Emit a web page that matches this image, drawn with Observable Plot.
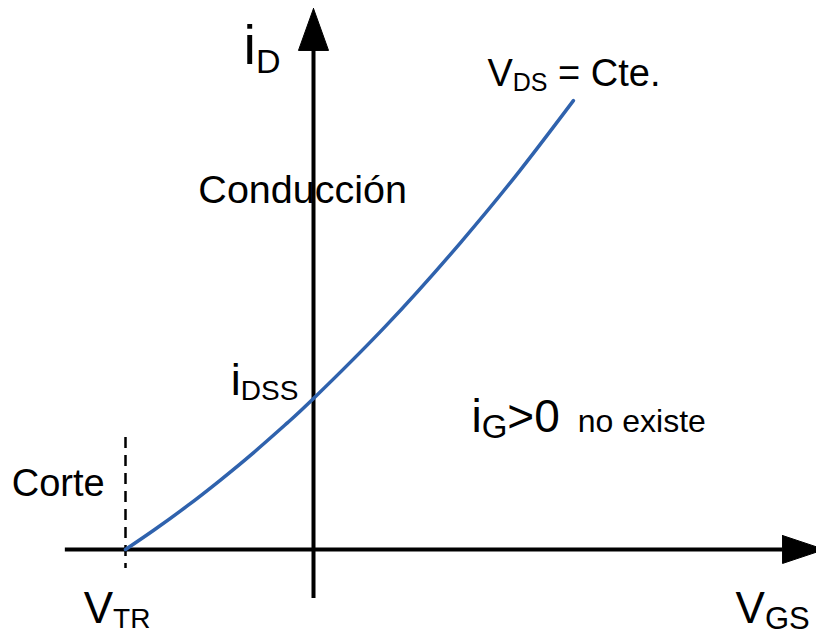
<!DOCTYPE html>
<html>
<head>
<meta charset="utf-8">
<script src="https://cdn.jsdelivr.net/npm/d3@7"></script>
<script src="https://cdn.jsdelivr.net/npm/@observablehq/plot@0.6"></script>
<style>
  html, body { margin: 0; padding: 0; background: #fff; }
  svg text { white-space: pre; }
</style>
</head>
<body>
<div id="chart"></div>
<script>
// Transfer characteristic (units: VTR = -4, iDSS = 4)
const vgs = [-4, -3.40, -2.68, -1.98, -1.28, -0.55, 0, 1.53, 3.13, 4.40, 5.53];
const iD  = [0, 0.51, 1.16, 1.84, 2.56, 3.36, 4.0, 5.91, 8.13, 10.05, 11.89];

// Axis extents (data units)
const xAxisExtent = [-5.28, 9.98];
const yAxisExtent = [-1.30, 13.22];
const vtr = -4;
const cutoffExtent = [2.97, -0.50];

// Arrowheads (triangles)
const arrowX = [0, -0.32, 0.32, 0,     9.98, 9.98, 10.87, 9.98];
const arrowY = [14.33, 13.22, 13.22, 14.33, 0.37, -0.37, 0, 0.37];
const arrowId = ["v","v","v","v","h","h","h","h"];

// Labels
const labelText = [
  [["i","m"],["D","s"]],
  [["V","m"],["DS","s"],[" = Cte.","m"]],
  [["Conducción","m"]],
  [["i","m"],["DSS","s"]],
  [["i","m"],["G","s"],[">0","m"],["no existe","t"]],
  [["Corte","m"]],
  [["V","m"],["TR","s"]],
  [["V","m"],["GS","s"]]
];
const labelX = [-1.49, 3.70, -2.45, -1.76, 3.36, -6.42, -4.89, 8.98];
const labelY = [12.87, 12.29, 9.17, 4.08, 3.10, 1.43, -1.96, -1.96];

// styles per label: main size, sub size, sub shift, tail size, tail dx
const labelStyle = [
  [56, 34, 9, 0, 0],
  [38, 25, 5, 0, 0],
  [39.5, 0, 0, 0, 0],
  [45, 28, 5, 0, 0],
  [46, 33, 6, 32, 18],
  [38, 0, 0, 0, 0],
  [44, 28, 5, 0, 0],
  [44, 31, 6, 0, 0]
];

const curve = vgs.map((v, k) => ({v, i: iD[k]}));
const arrows = arrowX.map((x, k) => ({x, y: arrowY[k], id: arrowId[k]}));
const labels = labelX.map((x, k) => ({x, y: labelY[k], k}));

const plot = Plot.plot({
  width: 816,
  height: 632,
  margin: 0,
  x: {domain: [-313/47, 503/47], axis: null},
  y: {domain: [-83/37.75, 549/37.75], axis: null},
  style: {background: "#fff", fontFamily: "'Liberation Sans', Arial, sans-serif"},
  marks: [
    Plot.ruleY([0], {x1: xAxisExtent[0], x2: xAxisExtent[1], stroke: "#000", strokeWidth: 4}),
    Plot.ruleX([0], {y1: yAxisExtent[0], y2: yAxisExtent[1], stroke: "#000", strokeWidth: 4}),
    Plot.line(arrows, {x: "x", y: "y", z: "id", fill: "#000", stroke: "#000", strokeWidth: 1}),
    Plot.ruleX([vtr], {y1: cutoffExtent[0], y2: cutoffExtent[1], stroke: "#000", strokeWidth: 2.5, strokeDasharray: "11,7"}),
    Plot.line(curve, {x: "v", y: "i", curve: "natural", stroke: "#2f62ad", strokeWidth: 3.5}),
    Plot.text(labels, {x: "x", y: "y", text: d => labelText[d.k].map(p => p[0]).join(""), textAnchor: "start", lineAnchor: "bottom", fontSize: 40, fill: "#000"})
  ]
});

// Rebuild label text with subscripts
const ns = "http://www.w3.org/2000/svg";
const texts = plot.querySelectorAll('g[aria-label="text"] text');
texts.forEach((t, idx) => {
  const parts = labelText[idx];
  const [mainSize, subSize, subShift, tailSize, tailDx] = labelStyle[idx];
  t.textContent = "";
  let shift = 0;
  for (const [str, role] of parts) {
    const ts = document.createElementNS(ns, "tspan");
    const target = role === "s" ? subShift : 0;
    if (target - shift !== 0) ts.setAttribute("dy", target - shift);
    shift = target;
    if (role === "t" && tailDx) ts.setAttribute("dx", tailDx);
    ts.setAttribute("font-size", role === "s" ? subSize : role === "t" ? tailSize : mainSize);
    ts.textContent = str;
    t.appendChild(ts);
  }
});

document.getElementById("chart").appendChild(plot);
</script>
</body>
</html>
